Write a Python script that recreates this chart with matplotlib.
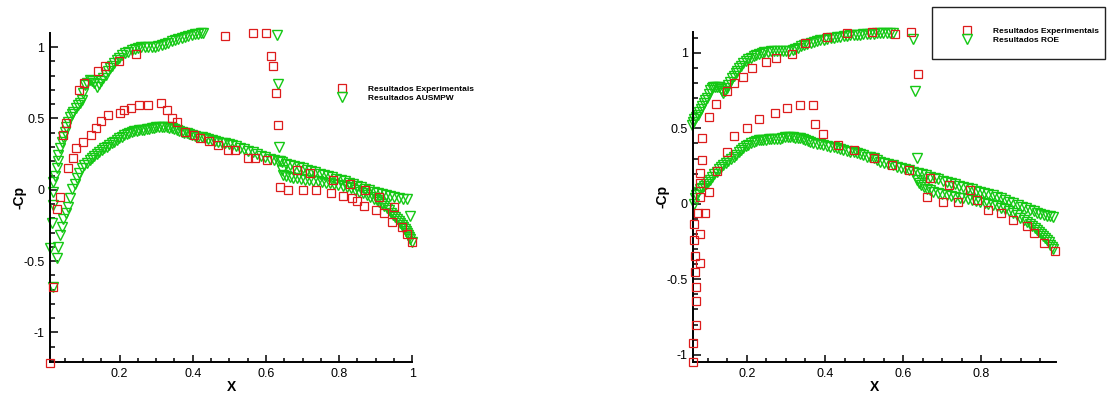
import matplotlib
matplotlib.use("Agg")
import matplotlib.pyplot as plt
from matplotlib.ticker import MultipleLocator, FuncFormatter
from matplotlib.patches import Rectangle

plt.rcParams['font.family'] = ['Liberation Sans', 'DejaVu Sans']
plt.rcParams['axes.unicode_minus'] = False

# ---------------- LEFT PANEL DATA (AUSMPW) ----------------
expL_x = [0.010, 0.017, 0.030, 0.037, 0.046, 0.053, 0.089, 0.102, 0.141, 0.161, 0.199, 0.246,
          0.487, 0.565, 0.599, 0.613, 0.618, 0.627, 0.632, 0.639, 0.661, 0.702, 0.737, 0.778,
          0.811, 0.834, 0.848, 0.869, 0.900, 0.923, 0.944, 0.971, 0.985, 0.998,
          0.059, 0.074, 0.080, 0.099, 0.122, 0.136, 0.149, 0.169, 0.201, 0.211, 0.231, 0.254,
          0.279, 0.313, 0.329, 0.343, 0.358, 0.379, 0.404, 0.420, 0.445, 0.470, 0.496, 0.516,
          0.552, 0.570, 0.602, 0.684, 0.720, 0.784, 0.830, 0.870, 0.910, 0.950]
expL_y = [-1.216, -0.680, -0.135, -0.053, 0.384, 0.468, 0.700, 0.750, 0.835, 0.870, 0.900, 0.950,
          1.079, 1.097, 1.097, 0.938, 0.870, 0.680, 0.452, 0.018, 0.000, 0.000, 0.000, -0.025,
          -0.043, -0.060, -0.076, -0.114, -0.142, -0.165, -0.228, -0.263, -0.310, -0.364,
          0.155, 0.225, 0.295, 0.333, 0.384, 0.435, 0.484, 0.524, 0.536, 0.559, 0.575, 0.592,
          0.592, 0.610, 0.557, 0.505, 0.473, 0.403, 0.384, 0.365, 0.342, 0.314, 0.279, 0.279,
          0.221, 0.221, 0.209, 0.139, 0.115, 0.069, 0.040, 0.000, -0.050, -0.120]

ausL_up_x = [0.019, 0.010, 0.015, 0.019, 0.019, 0.017, 0.024, 0.028, 0.031, 0.033, 0.037, 0.042,
             0.046, 0.051, 0.055, 0.060, 0.064, 0.069, 0.074, 0.080, 0.087, 0.092, 0.097, 0.101,
             0.106, 0.112, 0.120, 0.126, 0.131, 0.138, 0.144, 0.150, 0.156, 0.162, 0.168, 0.174,
             0.180, 0.186, 0.192, 0.199, 0.207, 0.215, 0.224, 0.233, 0.242, 0.251, 0.260, 0.270,
             0.279, 0.288, 0.297, 0.306, 0.315, 0.324, 0.333, 0.343, 0.352, 0.361, 0.370, 0.379,
             0.388, 0.397, 0.406, 0.415, 0.422, 0.429,
             0.629, 0.634, 0.636,
             0.638, 0.643, 0.648, 0.656, 0.665, 0.675, 0.684, 0.695, 0.707, 0.718, 0.730, 0.741,
             0.752, 0.764, 0.775, 0.786, 0.798, 0.810, 0.821, 0.832, 0.843, 0.855, 0.866, 0.876,
             0.885, 0.894, 0.903, 0.910, 0.917, 0.924, 0.930, 0.936, 0.942, 0.948, 0.953, 0.958,
             0.963, 0.967, 0.971, 0.975, 0.979, 0.982, 0.985, 0.988, 0.991, 0.994, 0.998]
ausL_up_y = [-0.680, -0.410, -0.235, -0.107, -0.013, 0.057, 0.100, 0.151, 0.200, 0.244, 0.290, 0.337,
             0.370, 0.407, 0.440, 0.477, 0.510, 0.530, 0.547, 0.570, 0.594, 0.610, 0.629, 0.680,
             0.734, 0.750, 0.769, 0.765, 0.750, 0.723, 0.745, 0.763, 0.781, 0.805, 0.830, 0.851,
             0.870, 0.890, 0.910, 0.925, 0.942, 0.957, 0.967, 0.978, 0.987, 0.993, 0.999, 1.003,
             1.004, 1.004, 1.003, 1.006, 1.012, 1.020, 1.030, 1.040, 1.050, 1.058, 1.066, 1.073,
             1.079, 1.085, 1.090, 1.094, 1.096, 1.098,
             1.085, 0.741, 0.298,
             0.200, 0.140, 0.104, 0.095, 0.090, 0.085, 0.080, 0.076, 0.072, 0.068, 0.064, 0.060,
             0.055, 0.050, 0.045, 0.039, 0.032, 0.025, 0.018, 0.010, 0.000, -0.012, -0.025, -0.038,
             -0.050, -0.061, -0.071, -0.085, -0.100, -0.115, -0.130, -0.145, -0.160, -0.175, -0.188, -0.203,
             -0.218, -0.232, -0.247, -0.262, -0.276, -0.290, -0.305, -0.318, -0.332, -0.346, -0.364]

ausL_lo_x = [0.028, 0.033, 0.037, 0.042, 0.046, 0.053, 0.060, 0.065, 0.071, 0.077, 0.083, 0.090,
             0.097, 0.104, 0.111, 0.118, 0.124, 0.131, 0.138, 0.144, 0.151, 0.158, 0.165, 0.172,
             0.179, 0.186, 0.192, 0.199, 0.206, 0.213, 0.220, 0.226, 0.233, 0.240, 0.247, 0.254,
             0.261, 0.268, 0.274, 0.281, 0.288, 0.295, 0.301, 0.308, 0.315, 0.322, 0.329, 0.336,
             0.343, 0.350, 0.357, 0.363, 0.370, 0.377, 0.384, 0.390, 0.397, 0.406, 0.415, 0.424,
             0.434, 0.443, 0.452, 0.461, 0.470, 0.479, 0.489, 0.498, 0.507, 0.518, 0.530, 0.541,
             0.552, 0.564, 0.575, 0.587, 0.598, 0.610, 0.621, 0.633, 0.644, 0.656, 0.667, 0.678,
             0.690, 0.701, 0.713, 0.724, 0.735, 0.747, 0.758, 0.770, 0.781, 0.792, 0.804, 0.815,
             0.827, 0.838, 0.849, 0.861, 0.872, 0.883, 0.895, 0.906, 0.917, 0.929, 0.940, 0.951,
             0.963, 0.974, 0.985, 0.994]
ausL_lo_y = [-0.480, -0.400, -0.320, -0.260, -0.207, -0.160, -0.118, -0.060, 0.006, 0.040, 0.080, 0.115,
             0.151, 0.172, 0.190, 0.207, 0.221, 0.237, 0.252, 0.266, 0.279, 0.291, 0.303, 0.315,
             0.326, 0.338, 0.350, 0.361, 0.372, 0.382, 0.391, 0.400, 0.407, 0.411, 0.415, 0.417,
             0.419, 0.422, 0.425, 0.428, 0.431, 0.434, 0.437, 0.440, 0.442, 0.440, 0.437, 0.434,
             0.431, 0.425, 0.419, 0.413, 0.407, 0.401, 0.395, 0.390, 0.384, 0.378, 0.372, 0.367,
             0.361, 0.355, 0.349, 0.343, 0.337, 0.331, 0.325, 0.319, 0.314, 0.305, 0.296, 0.287,
             0.275, 0.263, 0.252, 0.240, 0.228, 0.218, 0.208, 0.200, 0.192, 0.183, 0.175, 0.166,
             0.158, 0.150, 0.141, 0.132, 0.123, 0.114, 0.106, 0.097, 0.088, 0.079, 0.070, 0.061,
             0.050, 0.040, 0.029, 0.017, 0.006, -0.004, -0.013, -0.021, -0.029, -0.036, -0.043, -0.050,
             -0.057, -0.062, -0.067, -0.184]

# ---------------- RIGHT PANEL DATA (ROE) ----------------
expR_x = [0.063, 0.062, 0.070, 0.070, 0.070, 0.068, 0.081, 0.068, 0.066, 0.081, 0.066, 0.076,
          0.093, 0.079, 0.079, 0.104, 0.079, 0.123, 0.085, 0.149, 0.085, 0.168, 0.200, 0.231,
          0.271, 0.302, 0.336, 0.368, 0.375, 0.394, 0.434, 0.473, 0.524, 0.571, 0.616, 0.669,
          0.716, 0.771,
          0.104, 0.121, 0.149, 0.166, 0.191, 0.213, 0.249, 0.275, 0.315, 0.349, 0.405, 0.456,
          0.520, 0.579, 0.619, 0.639, 0.660, 0.701, 0.740, 0.788, 0.818, 0.850, 0.880, 0.916,
          0.935, 0.959, 0.988]
expR_y = [-1.046, -0.924, -0.803, -0.642, -0.553, -0.450, -0.394, -0.346, -0.240, -0.202, -0.134, -0.059,
          -0.059, 0.047, 0.136, 0.080, 0.202, 0.219, 0.290, 0.345, 0.434, 0.451, 0.504, 0.560,
          0.599, 0.632, 0.654, 0.654, 0.528, 0.460, 0.389, 0.356, 0.305, 0.257, 0.224, 0.169,
          0.124, 0.091,
          0.573, 0.661, 0.747, 0.798, 0.842, 0.897, 0.941, 0.964, 0.990, 1.063, 1.107, 1.129,
          1.140, 1.122, 1.140, 0.858, 0.047, 0.014, 0.014, 0.025, -0.041, -0.063, -0.107, -0.147,
          -0.195, -0.258, -0.310]

roeR_up_x = [0.060, 0.063, 0.066, 0.070, 0.074, 0.078, 0.082, 0.086, 0.090, 0.094, 0.098, 0.102,
             0.106, 0.110, 0.114, 0.119, 0.124, 0.129, 0.133, 0.137, 0.140, 0.144, 0.148, 0.152,
             0.157, 0.162, 0.166, 0.171, 0.176, 0.181, 0.186, 0.191, 0.197, 0.203, 0.210, 0.217,
             0.224, 0.231, 0.238, 0.245, 0.253, 0.261, 0.269, 0.277, 0.285, 0.293, 0.301, 0.309,
             0.317, 0.324, 0.331, 0.339, 0.347, 0.355, 0.363, 0.371, 0.380, 0.388, 0.397, 0.405,
             0.414, 0.422, 0.431, 0.439, 0.448, 0.456, 0.465, 0.473, 0.481, 0.490, 0.498, 0.507,
             0.515, 0.524, 0.532, 0.541, 0.549, 0.558, 0.566, 0.573,
             0.626, 0.630, 0.636,
             0.636, 0.640, 0.645, 0.652, 0.660, 0.668, 0.677, 0.688, 0.699, 0.711, 0.722, 0.733,
             0.744, 0.754, 0.765, 0.776, 0.786, 0.797, 0.808, 0.818, 0.829, 0.839, 0.850, 0.861,
             0.871, 0.882, 0.891, 0.899, 0.908, 0.916, 0.923, 0.929, 0.936, 0.942, 0.947, 0.953,
             0.958, 0.963, 0.968, 0.972, 0.976, 0.980, 0.983]
roeR_up_y = [0.520, 0.544, 0.560, 0.575, 0.590, 0.610, 0.630, 0.650, 0.670, 0.685, 0.700, 0.730,
             0.754, 0.768, 0.772, 0.772, 0.772, 0.772, 0.760, 0.745, 0.735, 0.750, 0.768, 0.785,
             0.810, 0.830, 0.845, 0.865, 0.882, 0.900, 0.915, 0.930, 0.945, 0.957, 0.968, 0.979,
             0.988, 0.995, 1.000, 1.004, 1.007, 1.009, 1.010, 1.010, 1.009, 1.009, 1.010, 1.012,
             1.018, 1.026, 1.035, 1.043, 1.050, 1.058, 1.065, 1.071, 1.077, 1.083, 1.088, 1.092,
             1.097, 1.100, 1.104, 1.107, 1.110, 1.113, 1.115, 1.117, 1.118, 1.120, 1.122, 1.124,
             1.126, 1.128, 1.130, 1.131, 1.132, 1.133, 1.133, 1.133,
             1.090, 0.749, 0.301,
             0.158, 0.140, 0.125, 0.113, 0.100, 0.090, 0.080, 0.072, 0.065, 0.058, 0.052, 0.047,
             0.041, 0.036, 0.031, 0.025, 0.020, 0.014, 0.008, 0.000, -0.007, -0.015, -0.025, -0.037,
             -0.050, -0.063, -0.077, -0.091, -0.105, -0.119, -0.133, -0.147, -0.160, -0.174, -0.188, -0.201,
             -0.215, -0.228, -0.242, -0.256, -0.270, -0.284, -0.297]

roeR_lo_x = [0.066, 0.068, 0.071, 0.075, 0.080, 0.085, 0.090, 0.095, 0.100, 0.106, 0.111, 0.117,
             0.123, 0.129, 0.135, 0.140, 0.147, 0.153, 0.160, 0.166, 0.172, 0.179, 0.185, 0.191,
             0.198, 0.204, 0.210, 0.217, 0.223, 0.230, 0.236, 0.242, 0.249, 0.256, 0.263, 0.270,
             0.277, 0.284, 0.290, 0.297, 0.304, 0.311, 0.318, 0.324, 0.330, 0.336, 0.343, 0.349,
             0.356, 0.362, 0.370, 0.379, 0.387, 0.396, 0.404, 0.413, 0.422, 0.430, 0.439, 0.447,
             0.456, 0.464, 0.473, 0.481, 0.490, 0.498, 0.507, 0.515, 0.524, 0.532, 0.541, 0.551,
             0.562, 0.573, 0.584, 0.594, 0.605, 0.616, 0.626, 0.637, 0.648, 0.658, 0.669, 0.680,
             0.690, 0.701, 0.711, 0.722, 0.733, 0.743, 0.754, 0.765, 0.775, 0.786, 0.797, 0.807,
             0.818, 0.829, 0.839, 0.850, 0.861, 0.871, 0.882, 0.893, 0.903, 0.914, 0.925, 0.934,
             0.942, 0.951, 0.959, 0.968, 0.976, 0.984]
roeR_lo_y = [0.000, 0.036, 0.058, 0.080, 0.095, 0.105, 0.115, 0.130, 0.143, 0.158, 0.175, 0.195,
             0.213, 0.228, 0.243, 0.257, 0.272, 0.286, 0.300, 0.312, 0.325, 0.340, 0.355, 0.368,
             0.380, 0.392, 0.402, 0.411, 0.416, 0.420, 0.422, 0.423, 0.425, 0.427, 0.428, 0.429,
             0.429, 0.432, 0.436, 0.440, 0.443, 0.444, 0.442, 0.439, 0.436, 0.434, 0.428, 0.422,
             0.416, 0.411, 0.405, 0.399, 0.394, 0.389, 0.384, 0.379, 0.374, 0.369, 0.363, 0.357,
             0.351, 0.345, 0.340, 0.334, 0.327, 0.320, 0.313, 0.307, 0.301, 0.291, 0.279, 0.272,
             0.264, 0.256, 0.246, 0.238, 0.230, 0.222, 0.213, 0.204, 0.196, 0.188, 0.179, 0.171,
             0.163, 0.154, 0.146, 0.138, 0.130, 0.121, 0.113, 0.105, 0.097, 0.088, 0.080, 0.072,
             0.064, 0.055, 0.047, 0.036, 0.025, 0.014, 0.003, -0.008, -0.019, -0.030, -0.041, -0.050,
             -0.058, -0.066, -0.074, -0.078, -0.082, -0.085]

label_exp = "Resultados Experimentais"
label_left = "Resultados AUSMPW"
label_right = "Resultados ROE"

RED = '#dd1c1c'
GREEN = '#14c814'

W, H = 1108, 393
fig = plt.figure(figsize=(W / 100, H / 100), dpi=100)

def px_axes(x0, y0, x1, y1):
    return fig.add_axes([x0 / W, 1 - y1 / H, (x1 - x0) / W, (y1 - y0) / H])

axL = px_axes(50, 33.3, 412.3, 362)
axR = px_axes(693.3, 31.7, 1055.7, 361.7)

def style(ax, xlim, ylim):
    ax.set_xlim(*xlim)
    ax.set_ylim(*ylim)
    for s in ['top', 'right']:
        ax.spines[s].set_visible(False)
    for s in ['left', 'bottom']:
        ax.spines[s].set_linewidth(1.4)
    ax.xaxis.set_major_locator(MultipleLocator(0.2))
    ax.xaxis.set_minor_locator(MultipleLocator(0.05))
    ax.yaxis.set_major_locator(MultipleLocator(0.5))
    ax.yaxis.set_minor_locator(MultipleLocator(0.1))
    fmt = FuncFormatter(lambda v, p: '%g' % round(v, 6))
    ax.xaxis.set_major_formatter(fmt)
    ax.yaxis.set_major_formatter(fmt)
    ax.tick_params(axis='both', which='both', direction='in', labelsize=9, width=1.1)
    ax.tick_params(axis='x', which='major', length=5, pad=4.5)
    ax.tick_params(axis='x', which='minor', length=3)
    ax.tick_params(axis='y', which='major', length=6, pad=4)
    ax.tick_params(axis='y', which='minor', length=3.5)
    ax.set_xlabel('X', fontsize=10, fontweight='bold')
    ax.set_ylabel('-Cp', fontsize=10, fontweight='bold')
    ax.xaxis.set_label_coords(0.5, -0.055)
    ax.xaxis.label.set_va('top')
    ax.yaxis.set_label_coords(-0.066, 0.5)

mk_tri = dict(linestyle='none', marker='v', ms=7.4, mfc='none', mec=GREEN, mew=1.0, clip_on=False)
mk_sq = dict(linestyle='none', marker='s', ms=6.4, mfc='none', mec=RED, mew=0.9, clip_on=False, zorder=3)

# Left panel
style(axL, (0.01, 1.0), (-1.207, 1.097))
h_cfdL, = axL.plot(ausL_up_x, ausL_up_y, **mk_tri)
axL.plot(ausL_lo_x, ausL_lo_y, **mk_tri)
h_expL, = axL.plot(expL_x, expL_y, **mk_sq)
axL.legend([h_expL, h_cfdL], [label_exp, label_left], loc='center left',
           bbox_to_anchor=(333.7 / W, 1 - 93.5 / H), bbox_transform=fig.transFigure,
           frameon=False, borderpad=0, borderaxespad=0, handlelength=2, handletextpad=2.1,
           labelspacing=0.1, prop=dict(family='Liberation Sans', weight='bold', size=6))

# Right panel
style(axR, (0.063, 0.99), (-1.046, 1.14))
h_cfdR, = axR.plot(roeR_up_x, roeR_up_y, **mk_tri)
axR.plot(roeR_lo_x, roeR_lo_y, **mk_tri)
h_expR, = axR.plot(expR_x, expR_y, **mk_sq)
axR.legend([h_expR, h_cfdR], [label_exp, label_right], loc='center left',
           bbox_to_anchor=(958.7 / W, 1 - 35.5 / H), bbox_transform=fig.transFigure,
           frameon=False, borderpad=0, borderaxespad=0, handlelength=2, handletextpad=2.1,
           labelspacing=0.1, prop=dict(family='Liberation Sans', weight='bold', size=6))
fig.add_artist(Rectangle((932.3 / W, 1 - 59.3 / H), (1105 - 932.3) / W, 52 / H,
                         transform=fig.transFigure, fill=False, edgecolor='#222222', linewidth=1.0))

fig.savefig('out.png', dpi=100)
